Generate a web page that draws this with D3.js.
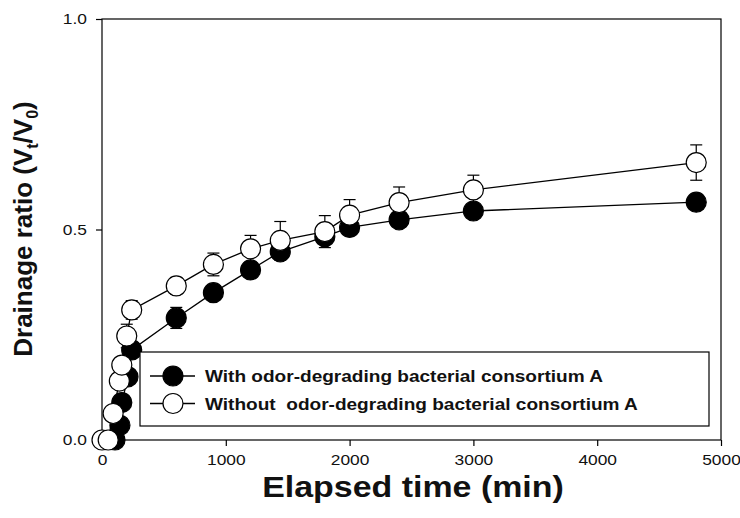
<!DOCTYPE html>
<html><head><meta charset="utf-8">
<script src="https://cdn.jsdelivr.net/npm/d3@7"></script>
<style>body{margin:0;background:#fff}svg{display:block}text{font-family:"Liberation Sans",Arial,sans-serif}</style>
</head><body><svg id="c" width="740" height="518"></svg>
<script>
// ---- data ----
const seriesNames = ["With odor-degrading bacterial consortium A", "Without  odor-degrading bacterial consortium A"];
const withTime   = [105, 145, 160, 210, 240, 600, 900, 1200, 1440, 1800, 2000, 2400, 3000, 4800];
const withValue  = [0, 0.035, 0.089, 0.150, 0.214, 0.290, 0.350, 0.404, 0.447, 0.483, 0.505, 0.523, 0.544, 0.565];
const withErr    = [0, 0.008, 0.010, 0.015, 0.010, 0.025, 0.010, 0.014, 0.020, 0.018, 0.010, 0.010, 0.010, 0.010];
const withoutTime  = [0, 50, 90, 140, 160, 200, 240, 600, 900, 1200, 1440, 1800, 2000, 2400, 3000, 4800];
const withoutValue = [0, 0, 0.063, 0.140, 0.178, 0.247, 0.309, 0.366, 0.417, 0.454, 0.474, 0.495, 0.534, 0.564, 0.594, 0.659];
const withoutErr   = [0, 0, 0.010, 0.010, 0.012, 0.028, 0.022, 0.020, 0.027, 0.032, 0.045, 0.038, 0.037, 0.037, 0.035, 0.042];
const xTicks = [0, 1000, 2000, 3000, 4000, 5000];
const yTicks = [0, 0.5, 1.0];
const xLabel = "Elapsed time (min)";

const svg = d3.select("#c");
const L = 102, R = 721, T = 19, B = 440;
const x = d3.scaleLinear().domain([0, 5000]).range([L, R]);
const y = d3.scaleLinear().domain([0, 1]).range([B, T]);

// stretch text horizontally (reference glyphs are wider than they are tall)
function stretch(sel, k) {
  sel.each(function () {
    const w = this.getComputedTextLength();
    d3.select(this).attr("textLength", w * k).attr("lengthAdjust", "spacingAndGlyphs");
  });
}

// frame
svg.append("rect").attr("x", L).attr("y", T).attr("width", R - L).attr("height", B - T)
  .attr("fill", "none").attr("stroke", "#000").attr("stroke-width", 1.2);

// axes
const xa = svg.append("g").attr("transform", `translate(0,${B})`)
  .call(d3.axisBottom(x).tickValues(xTicks).tickFormat(d3.format("d")).tickSize(6).tickPadding(8));
const ya = svg.append("g").attr("transform", `translate(${L},0)`)
  .call(d3.axisLeft(y).tickValues(yTicks).tickFormat(d3.format(".1f")).tickSize(6).tickPadding(9));
[xa, ya].forEach(g => {
  g.select(".domain").remove();
  g.selectAll("line").attr("stroke", "#000").attr("stroke-width", 1.2);
  g.selectAll("text").attr("font-size", 15.5).attr("fill", "#111").attr("font-family", '"Liberation Sans",Arial,sans-serif');
  stretch(g.selectAll("text"), 1.12);
});

// series
function drawSeries(times, vals, errs, fill) {
  const pts = times.map((t, i) => ({t, v: vals[i], e: errs[i]}));
  const g = svg.append("g");
  g.append("path").datum(pts)
    .attr("d", d3.line().x(d => x(d.t)).y(d => y(d.v)))
    .attr("fill", "none").attr("stroke", "#000").attr("stroke-width", 1.3);
  const eb = g.selectAll(".eb").data(pts.filter(d => d.e > 0)).join("g");
  eb.append("line").attr("x1", d => x(d.t)).attr("x2", d => x(d.t))
    .attr("y1", d => y(d.v - d.e)).attr("y2", d => y(d.v + d.e)).attr("stroke", "#000").attr("stroke-width", 1.2);
  [-1, 1].forEach(s => eb.append("line")
    .attr("x1", d => x(d.t) - 6).attr("x2", d => x(d.t) + 6)
    .attr("y1", d => y(d.v + s * d.e)).attr("y2", d => y(d.v + s * d.e))
    .attr("stroke", "#000").attr("stroke-width", 1.2));
  g.selectAll("circle").data(pts).join("circle")
    .attr("cx", d => x(d.t)).attr("cy", d => y(d.v)).attr("r", 10)
    .attr("fill", fill).attr("stroke", "#000").attr("stroke-width", 1.2);
}
drawSeries(withTime, withValue, withErr, "#000");
drawSeries(withoutTime, withoutValue, withoutErr, "#fff");

// legend
const lg = svg.append("g");
lg.append("rect").attr("x", 140).attr("y", 352).attr("width", 569).attr("height", 74)
  .attr("fill", "#fff").attr("stroke", "#000").attr("stroke-width", 1.2);
const fills = ["#000", "#fff"];
seriesNames.forEach((n, i) => {
  const yy = 376 + i * 27.5;
  lg.append("line").attr("x1", 150).attr("x2", 195).attr("y1", yy).attr("y2", yy).attr("stroke", "#000").attr("stroke-width", 1.3);
  lg.append("circle").attr("cx", 173).attr("cy", yy).attr("r", 10).attr("fill", fills[i]).attr("stroke", "#000").attr("stroke-width", 1.2);
  const t = lg.append("text").attr("x", 205).attr("y", yy).attr("dy", "0.36em")
    .attr("font-size", 17).attr("font-weight", "bold").attr("fill", "#111")
    .attr("xml:space", "preserve").style("white-space", "pre").text(n);
  stretch(t, 1.12);
});

// axis titles
const xt = svg.append("text").attr("x", 413).attr("y", 497).attr("text-anchor", "middle")
  .attr("font-size", 29).attr("font-weight", "bold").attr("fill", "#111").text(xLabel);
stretch(xt, 1.17);
const yt = svg.append("text").attr("transform", "translate(32,229) rotate(-90)").attr("text-anchor", "middle")
  .attr("font-size", 26).attr("font-weight", "bold").attr("fill", "#111");
yt.append("tspan").text("Drainage ratio (V");
yt.append("tspan").attr("font-size", 16).attr("dy", 6).text("t");
yt.append("tspan").attr("dy", -6).text("/V");
yt.append("tspan").attr("font-size", 16).attr("dy", 6).text("0");
yt.append("tspan").attr("dy", -6).text(")");
</script></body></html>
